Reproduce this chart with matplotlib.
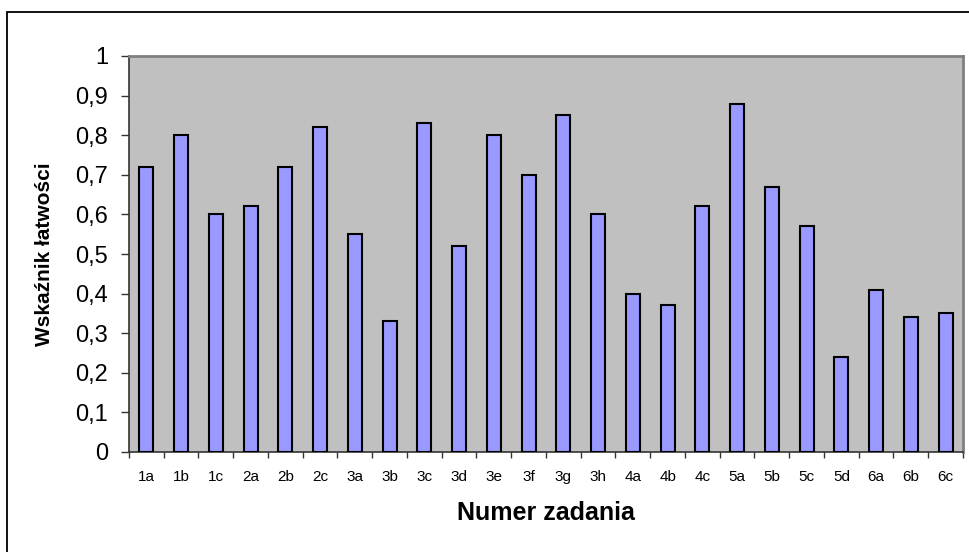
import matplotlib
matplotlib.use("Agg")
import matplotlib.pyplot as plt
from matplotlib.patches import Rectangle
from matplotlib.ticker import FixedLocator, FuncFormatter
import numpy as np

categories = ["1a", "1b", "1c", "2a", "2b", "2c", "3a", "3b", "3c", "3d", "3e", "3f",
              "3g", "3h", "4a", "4b", "4c", "5a", "5b", "5c", "5d", "6a", "6b", "6c"]
values = [0.72, 0.80, 0.60, 0.62, 0.72, 0.82, 0.55, 0.33, 0.83, 0.52, 0.80, 0.70,
          0.85, 0.60, 0.40, 0.37, 0.62, 0.88, 0.67, 0.57, 0.24, 0.41, 0.34, 0.35]
y_ticks = [0, 0.1, 0.2, 0.3, 0.4, 0.5, 0.6, 0.7, 0.8, 0.9, 1.0]

plt.rcParams['font.family'] = ['Liberation Sans', 'DejaVu Sans']

W, H = 970, 552
fig = plt.figure(figsize=(W / 100, H / 100), dpi=100)
fig.patch.set_facecolor('white')

# outer chart border
fig.patches.append(Rectangle((7 / W, -0.1), 1.2, 1 - 12 / H + 0.1, transform=fig.transFigure,
                             fill=False, edgecolor='black', linewidth=1.3, zorder=0))

left, right, top, bottom = 129 / W, 963 / W, 1 - 56 / H, 1 - 452 / H
ax = fig.add_axes([left, bottom, right - left, top - bottom])
ax.set_facecolor('#C0C0C0')

x = np.arange(len(categories))
ax.bar(x, values, width=0.40, color='#9999FF', edgecolor='black', linewidth=1.5, zorder=3)

ax.set_xlim(-0.5, len(categories) - 0.5)
ax.set_ylim(0, 1)

ax.set_yticks(y_ticks)
ax.yaxis.set_major_formatter(FuncFormatter(lambda v, p: ('%g' % round(v, 1)).replace('.', ',')))
ax.tick_params(axis='y', direction='out', length=6, width=1, color='#333333',
               labelsize=17, pad=9)

ax.set_xticks(x)
ax.set_xticklabels(categories)
ax.tick_params(axis='x', which='major', length=0, labelsize=11, pad=13)
ax.xaxis.set_minor_locator(FixedLocator(np.arange(-0.5, len(categories), 1.0)))
ax.tick_params(axis='x', which='minor', direction='out', length=4, width=1, color='#333333')

for s in ['top', 'right']:
    ax.spines[s].set_color('#808080')
    ax.spines[s].set_linewidth(2)
for s in ['left', 'bottom']:
    ax.spines[s].set_color('#333333')
    ax.spines[s].set_linewidth(1.2)

ax.set_ylabel('Wskaźnik łatwości', fontsize=15, fontweight='bold')
ax.yaxis.set_label_coords((45 - 129) / 834, 0.5)
ax.set_xlabel('Numer zadania', fontsize=18, fontweight='bold')
ax.xaxis.set_label_coords(0.5, (452 - 513) / 396)
ax.xaxis.label.set_va('center')
ax.yaxis.label.set_va('center')

fig.savefig('out.png', dpi=100)
